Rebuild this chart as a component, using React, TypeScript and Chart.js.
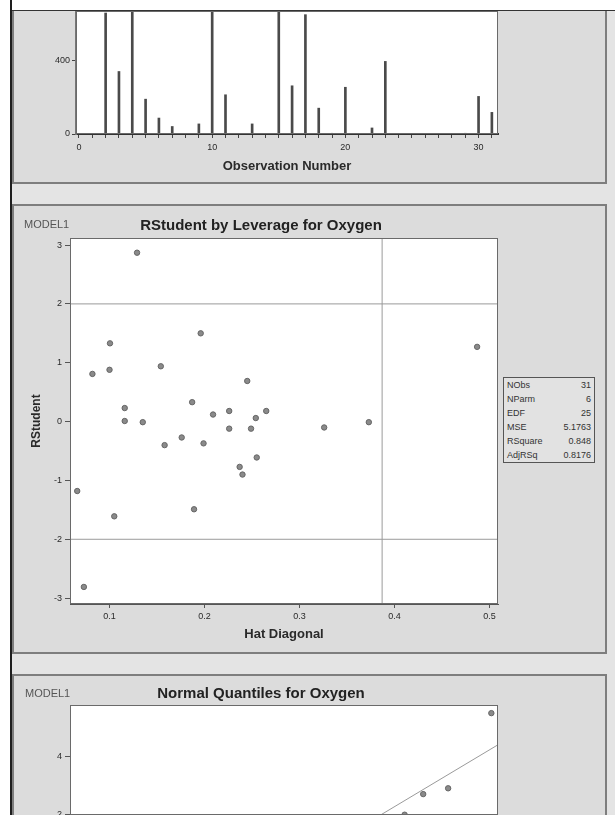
import React, { useEffect, useRef } from "react";
import { Chart, registerables } from "chart.js";

Chart.register(...registerables);

// ---------- Top panel: needle plot by observation number ----------
const obsNumbers = [1, 2, 3, 4, 5, 6, 7, 8, 9, 10, 11, 12, 13, 14, 15, 16, 17, 18, 19, 20, 21, 22, 23, 24, 25, 26, 27, 28, 29, 30, 31];
const obsValues = [3, 660, 341, 1000, 190, 87, 41, 3, 55, 1100, 214, 3, 55, 2, 950, 263, 651, 141, 4, 255, 3, 33, 396, 2, 3, 2, 3, 2, 4, 205, 118];
const obsYTicks = [0, 400];
const obsXTicks = [0, 1, 2, 3, 4, 5, 6, 7, 8, 9, 10, 11, 12, 13, 14, 15, 16, 17, 18, 19, 20, 21, 22, 23, 24, 25, 26, 27, 28, 29, 30, 31];
const obsXLabelEvery = 10;
const obsXTitle = "Observation Number";

// ---------- Middle panel: RStudent by Leverage ----------
const leverage = [0.129, 0.1005, 0.196, 0.082, 0.1, 0.154, 0.245, 0.487, 0.116, 0.187, 0.116, 0.135, 0.209, 0.226, 0.265, 0.254, 0.226, 0.249, 0.176, 0.158, 0.199, 0.255, 0.326, 0.373, 0.237, 0.24, 0.066, 0.105, 0.189, 0.073];
const rstudent = [2.87, 1.33, 1.5, 0.81, 0.88, 0.94, 0.69, 1.27, 0.23, 0.33, 0.01, -0.01, 0.12, 0.18, 0.18, 0.06, -0.12, -0.12, -0.27, -0.4, -0.37, -0.61, -0.1, -0.01, -0.77, -0.9, -1.18, -1.61, -1.49, -2.81];
const rstudentRefLines = [-2, 2];
const leverageCutoff = [0.387];
const rsYTicks = [-3, -2, -1, 0, 1, 2, 3];
const levXTicks = [0.1, 0.2, 0.3, 0.4, 0.5];
const rsXRange = [0.0584, 0.509];
const rsYRange = [-3.1, 3.12];
const rsTitle = "RStudent by Leverage for Oxygen";
const rsXTitle = "Hat Diagonal";
const rsYTitle = "RStudent";
const modelLabel = "MODEL1";

const statLabels = ["NObs", "NParm", "EDF", "MSE", "RSquare", "AdjRSq"];
const statValues = ["31", "6", "25", "5.1763", "0.848", "0.8176"];

// ---------- Bottom panel: Normal quantiles ----------
const quantiles = [1.195, 1.379, 1.626, 2.054];
const residuals = [2.0, 2.71, 2.91, 5.5];
const fitLineX = [-2.12, 2.12];
const fitLineY = [-4.41, 4.41];
const nqYTicks = [2, 4];
const nqXRange = [-2.12, 2.12];
const nqYRange = [1.99, 5.78];
const nqTitle = "Normal Quantiles for Oxygen";

const FONT = "'Liberation Sans', Arial, sans-serif";
const TEXT = "#2a2a2a";

const chartBg = {
  id: "chartBg",
  beforeDraw(chart: any) {
    const { ctx, chartArea: a } = chart;
    ctx.save();
    ctx.fillStyle = "#ffffff";
    ctx.fillRect(a.left, a.top, a.right - a.left, a.bottom - a.top);
    ctx.restore();
  },
};

const frame = {
  id: "frame",
  afterDatasetsDraw(chart: any) {
    const { ctx, chartArea: a } = chart;
    ctx.save();
    ctx.strokeStyle = "#6a6a6a";
    ctx.lineWidth = 1;
    ctx.strokeRect(Math.round(a.left) + 0.5, Math.round(a.top) + 0.5, Math.round(a.right - a.left) - 1, Math.round(a.bottom - a.top) - 1);
    ctx.restore();
  },
};

function fixedTicks(values: number[]) {
  return (scale: any) => {
    scale.ticks = values.map((v) => ({ value: v }));
  };
}

function fitSize(width: number | null, height: number | null) {
  return (s: any) => {
    if (width !== null) s.width = width;
    if (height !== null) s.height = height;
    s.paddingTop = 0;
    s.paddingBottom = 0;
    s.paddingLeft = 0;
    s.paddingRight = 0;
  };
}

function ChartCanvas({ make, left, top, width, height }: any) {
  const ref = useRef<HTMLCanvasElement>(null);
  useEffect(() => {
    const chart = new Chart(ref.current as HTMLCanvasElement, make());
    return () => chart.destroy();
  }, []);
  return (
    <div style={{ position: "absolute", left, top, width, height }}>
      <canvas ref={ref} width={width} height={height} style={{ width, height, display: "block" }} />
    </div>
  );
}

const tickFont = { family: FONT, size: 9 };
const xTitleFont = { family: FONT, size: 13, weight: "bold" as const };
const yTitleFont = { family: FONT, size: 12, weight: "bold" as const };

function makeTop(): any {
  return {
    type: "bar",
    data: {
      datasets: [
        {
          data: obsNumbers.map((n, i) => ({ x: n, y: obsValues[i] })),
          backgroundColor: "#4a4a4a",
          borderWidth: 0,
          barThickness: 2,
        },
      ],
    },
    options: {
      responsive: false,
      animation: false,
      layout: { autoPadding: false, padding: { top: 0, right: 107, bottom: 0, left: 0 } },
      plugins: { legend: { display: false }, tooltip: { enabled: false } },
      scales: {
        x: {
          type: "linear",
          offset: false,
          min: -0.225,
          max: 31.46,
          afterBuildTicks: fixedTicks(obsXTicks),
          afterFit: fitSize(null, 49),
          grid: { display: true, drawOnChartArea: false, drawTicks: true, tickLength: 4, color: "#444", offset: false },
          border: { display: true, color: "#333", width: 2 },
          ticks: {
            autoSkip: false,
            maxRotation: 0,
            padding: 4,
            color: TEXT,
            font: tickFont,
            callback: (v: any) => (Number(v) % obsXLabelEvery === 0 ? String(v) : ""),
          },
          title: { display: true, text: obsXTitle, color: TEXT, font: xTitleFont, padding: { top: 0, bottom: 9 } },
        },
        y: {
          min: 0,
          max: 671,
          afterBuildTicks: fixedTicks(obsYTicks),
          afterFit: fitSize(62, null),
          grid: { display: true, drawOnChartArea: false, drawTicks: true, tickLength: 4, color: "#444" },
          border: { display: true, color: "#777", width: 2 },
          ticks: { padding: 2, color: TEXT, font: tickFont },
        },
      },
    },
    plugins: [chartBg, frame],
  };
}

function makeMiddle(): any {
  const [x0, x1] = rsXRange;
  const [y0, y1] = rsYRange;
  const refLine = (pts: any[]) => ({
    type: "line",
    data: pts,
    borderColor: "#9a9a9a",
    borderWidth: 1,
    pointRadius: 0,
    fill: false,
  });
  return {
    type: "scatter",
    data: {
      datasets: [
        ...rstudentRefLines.map((r) => refLine([{ x: x0, y: r }, { x: x1, y: r }])),
        ...leverageCutoff.map((c) => refLine([{ x: c, y: y0 }, { x: c, y: y1 }])),
        {
          data: leverage.map((l, i) => ({ x: l, y: rstudent[i] })),
          pointRadius: 2.7,
          pointBackgroundColor: "#8a8a8a",
          pointBorderColor: "#666",
          pointBorderWidth: 1,
        },
      ],
    },
    options: {
      responsive: false,
      animation: false,
      layout: { autoPadding: false, padding: { top: 32, right: 107, bottom: 0, left: 0 } },
      plugins: { legend: { display: false }, tooltip: { enabled: false } },
      scales: {
        x: {
          type: "linear",
          min: x0,
          max: x1,
          afterBuildTicks: fixedTicks(levXTicks),
          afterFit: fitSize(null, 47),
          grid: { display: true, drawOnChartArea: false, drawTicks: true, tickLength: 4, color: "#555" },
          border: { display: true, color: "#555", width: 1 },
          ticks: { maxRotation: 0, padding: 3, color: TEXT, font: tickFont, callback: (v: any) => Number(v).toFixed(1) },
          title: { display: true, text: rsXTitle, color: TEXT, font: xTitleFont, padding: { top: 0, bottom: 9 } },
        },
        y: {
          type: "linear",
          min: y0,
          max: y1,
          afterBuildTicks: fixedTicks(rsYTicks),
          afterFit: fitSize(56, null),
          grid: { display: true, drawOnChartArea: false, drawTicks: true, tickLength: 5, color: "#555" },
          border: { display: true, color: "#555", width: 1 },
          ticks: { padding: 3, color: TEXT, font: tickFont },
          title: { display: true, text: rsYTitle, color: TEXT, font: yTitleFont, padding: { top: 15, bottom: 0 } },
        },
      },
    },
    plugins: [chartBg, frame],
  };
}

function makeBottom(): any {
  return {
    type: "scatter",
    data: {
      datasets: [
        {
          type: "line",
          data: fitLineX.map((x, i) => ({ x, y: fitLineY[i] })),
          borderColor: "#9a9a9a",
          borderWidth: 1,
          pointRadius: 0,
          fill: false,
        },
        {
          data: quantiles.map((q, i) => ({ x: q, y: residuals[i] })),
          pointRadius: 2.7,
          pointBackgroundColor: "#8a8a8a",
          pointBorderColor: "#666",
          pointBorderWidth: 1,
        },
      ],
    },
    options: {
      responsive: false,
      animation: false,
      layout: { autoPadding: false, padding: { top: 29, right: 107, bottom: 0, left: 0 } },
      plugins: { legend: { display: false }, tooltip: { enabled: false } },
      scales: {
        x: { type: "linear", display: false, min: nqXRange[0], max: nqXRange[1] },
        y: {
          type: "linear",
          min: nqYRange[0],
          max: nqYRange[1],
          afterBuildTicks: fixedTicks(nqYTicks),
          afterFit: fitSize(56, null),
          grid: { display: true, drawOnChartArea: false, drawTicks: true, tickLength: 5, color: "#555" },
          border: { display: true, color: "#555", width: 1 },
          ticks: { padding: 3, color: TEXT, font: tickFont },
        },
      },
    },
    plugins: [chartBg, frame],
  };
}

const panelStyle = (top: number, height: number): React.CSSProperties => ({
  position: "absolute",
  left: 12,
  top,
  width: 591,
  height,
  background: "#dcdcdc",
  border: "2px solid #7e7e7e",
});

const labelStyle = (left: number, top: number): React.CSSProperties => ({
  position: "absolute",
  left,
  top,
  font: `11px ${FONT}`,
  color: "#555",
  lineHeight: "12px",
  whiteSpace: "nowrap",
});

const titleStyle = (top: number): React.CSSProperties => ({
  position: "absolute",
  left: 261,
  top,
  transform: "translateX(-50%)",
  font: `bold 15px ${FONT}`,
  color: "#222",
  lineHeight: "16px",
  whiteSpace: "nowrap",
});

export default function App() {
  return (
    <div style={{ position: "absolute", left: 0, top: 0, width: 615, height: 815, overflow: "hidden", background: "#e4e4e4", fontFamily: FONT }}>
      <div style={{ position: "absolute", left: 0, top: 0, width: 10, height: 815, background: "#ffffff" }} />
      <div style={{ position: "absolute", left: 10, top: 0, width: 2, height: 815, background: "#1e1e1e" }} />
      <div style={{ position: "absolute", left: 12, top: 0, width: 603, height: 10, background: "#ffffff" }} />

      <div style={{ ...panelStyle(10, 172), borderTop: "none" }} />
      <div style={{ position: "absolute", left: 12, top: 10, width: 603, height: 1, background: "#333" }} />
      <div style={panelStyle(204, 446)} />
      <div style={{ ...panelStyle(674, 160) }} />

      <ChartCanvas make={makeTop} left={14} top={11} width={591} height={172} />
      <ChartCanvas make={makeMiddle} left={14} top={206} width={591} height={445} />
      <ChartCanvas make={makeBottom} left={14} top={676} width={591} height={139} />

      <div style={labelStyle(24, 218)}>{modelLabel}</div>
      <div style={titleStyle(217)}>{rsTitle}</div>
      <div style={labelStyle(25, 687)}>{modelLabel}</div>
      <div style={titleStyle(685)}>{nqTitle}</div>

      <div
        style={{
          position: "absolute",
          left: 503,
          top: 377,
          width: 92,
          height: 86,
          border: "1px solid #555",
          background: "#e2e2e2",
          padding: "0px 3px",
          boxSizing: "border-box",
        }}
      >
        {statLabels.map((l, i) => (
          <div key={l} style={{ display: "flex", justifyContent: "space-between", font: `9px ${FONT}`, color: "#333", height: 14, lineHeight: "14px" }}>
            <span>{l}</span>
            <span>{statValues[i]}</span>
          </div>
        ))}
      </div>
    </div>
  );
}
